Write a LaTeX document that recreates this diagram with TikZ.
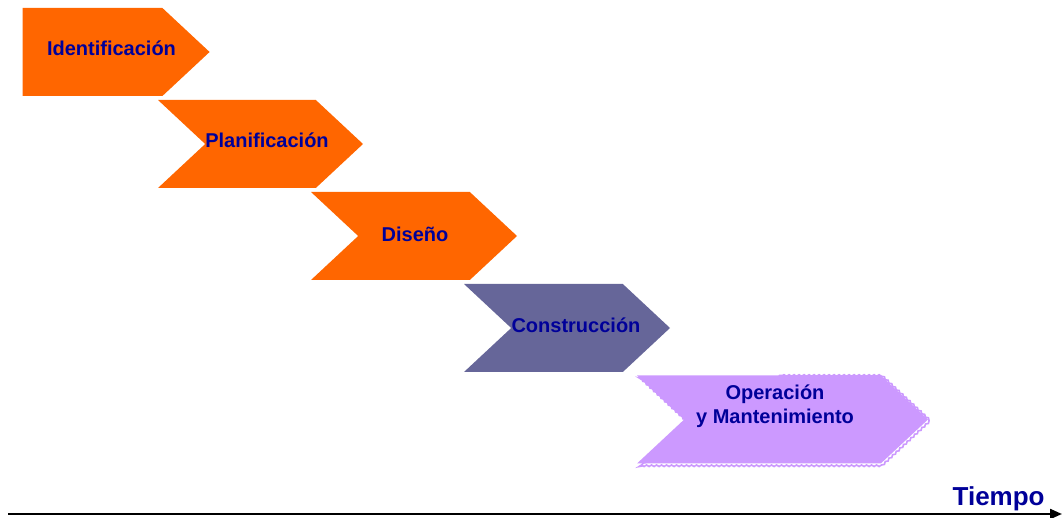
\documentclass[tikz,border=0pt]{standalone}
\usepackage{fontspec}
\setmainfont{Liberation Sans}
\usetikzlibrary{arrows.meta,positioning,shapes.symbols,decorations.pathmorphing}
\definecolor{phaseorange}{HTML}{FF6600}
\definecolor{phaseslate}{HTML}{666699}
\definecolor{phaselilac}{HTML}{CC99FF}
\definecolor{labelblue}{HTML}{000099}

\begin{document}
\begin{tikzpicture}[x=0.5pt,y=-0.5pt,
  phase/.style={signal,signal to=east,signal from=west,signal pointer angle=86,
    minimum height=44pt,inner sep=0pt,fill=phaseorange},
  phase text/.style={anchor=base,inner sep=0pt,text=labelblue,align=center,
    font=\fontsize{10}{12}\selectfont\bfseries}]
    \useasboundingbox (0,0) rectangle (1062,518);
    \node[phase,signal from=nowhere,minimum width=93.5pt](F1) at (92.5,52){};
    \node[phase,minimum width=102.5pt](F2) at (260.5,144){};
    \node[phase,minimum width=103pt](F3) at (414,236){};
    \node[phase,minimum width=103pt,fill=phaseslate](F4) at (567,328){};
    \node[phase,minimum width=145.5pt,fill=phaselilac,
      postaction={draw=phaselilac,line width=0.8pt,decorate,
        decoration={snake,amplitude=0.4pt,segment length=2.5pt}}](F5) at (782.5,419.5){};
    \node[phase text](L1) at (111.5,56){Identificación};
    \node[phase text](L2) at (267,148){Planificación};
    \node[phase text](L3) at (415,241.5){Diseño};
    \node[phase text](L4) at (576,333){Construcción};
    \node[phase text](L5a) at (775,399.5){Operación};
    \node[phase text](L5b) at (775,424){y Mantenimiento};
    % eje del tiempo
    \coordinate (T0) at (8,514);
    \coordinate (T1) at (1062,514);
    \draw[-{Triangle[length=6pt,width=5pt]},line width=1.1pt] (T0) -- (T1);
    \node[anchor=base east,inner sep=0pt,text=labelblue,
      font=\fontsize{13}{15}\selectfont\bfseries] (tiempo) at (1045,506) {Tiempo};
\end{tikzpicture}
\end{document}
